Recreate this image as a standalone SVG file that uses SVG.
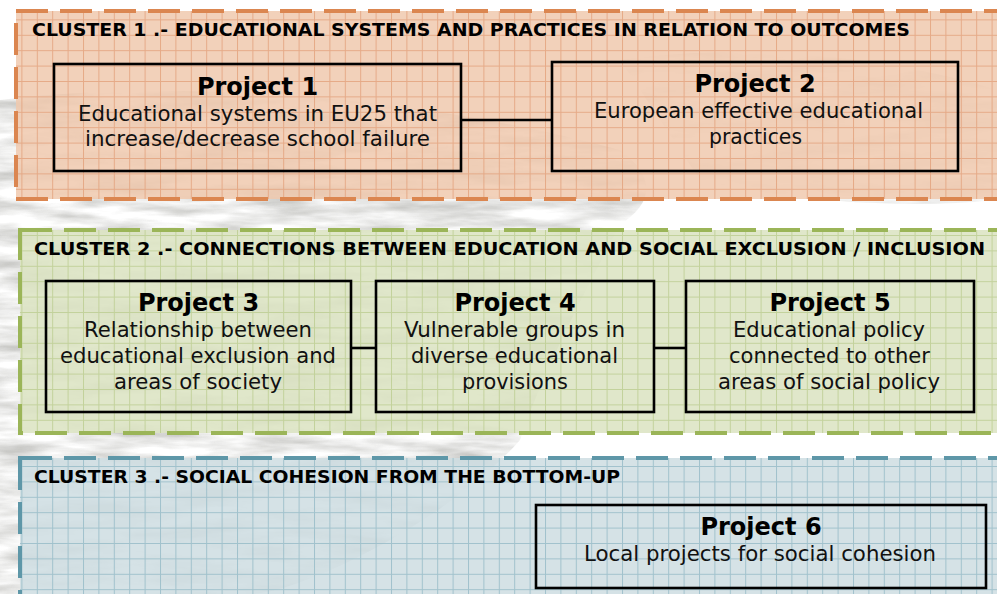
<svg xmlns="http://www.w3.org/2000/svg" width="997" height="594" viewBox="0 0 997 594">
<style>
.ct{font-family:"DejaVu Sans","Verdana",sans-serif;font-weight:bold;font-size:17.5px;fill:#000}
.pt{font-family:"DejaVu Sans","Verdana",sans-serif;font-weight:bold;font-size:24px;fill:#000;text-anchor:middle}
.pb{font-family:"DejaVu Sans","Verdana",sans-serif;font-size:20.5px;fill:#111;text-anchor:middle}
.box{fill:none;stroke:#000;stroke-width:2.6}
.conn{stroke:#000;stroke-width:2.6;fill:none}
.cl{stroke-width:4;stroke-dasharray:32 12}
</style>
<defs>
<filter id="tex" x="0" y="0" width="100%" height="100%">
<feTurbulence type="fractalNoise" baseFrequency="0.012 0.07" numOctaves="4" seed="7" result="n"/>
<feColorMatrix type="matrix" values="0 0 0 0 0.55  0 0 0 0 0.55  0 0 0 0 0.53  2.2 0 0 0 -0.75" in="n" result="g"/>
<feComposite in="g" in2="SourceGraphic" operator="in"/>
</filter>
<pattern id="g1" width="15.4" height="15.4" patternUnits="userSpaceOnUse" x="6" y="4">
<path d="M0 0.5H15.4M0.5 0V15.4" stroke="#E2A07A" stroke-width="1" fill="none" opacity="0.8"/>
</pattern>
<pattern id="g2" width="15.4" height="15.4" patternUnits="userSpaceOnUse" x="6" y="4">
<path d="M0 0.5H15.4M0.5 0V15.4" stroke="#BDCE93" stroke-width="1" fill="none" opacity="0.85"/>
</pattern>
<pattern id="g3" width="15.4" height="15.4" patternUnits="userSpaceOnUse" x="6" y="4">
<path d="M0 0.5H15.4M0.5 0V15.4" stroke="#98BCC8" stroke-width="1" fill="none" opacity="0.85"/>
</pattern>
</defs>
<rect width="997" height="594" fill="#fff"/>
<!-- background sketch texture -->
<path d="M0 100 C150 80 400 90 620 150 C660 180 650 205 620 225 C580 300 540 380 520 440 C450 520 300 594 250 594 L0 594 Z" fill="#fff" filter="url(#tex)" opacity="0.9"/>
<path d="M620 60 C760 40 900 60 997 90 L997 200 C900 210 780 200 700 180 Z" fill="#fff" filter="url(#tex)" opacity="0.5"/>

<g id="cluster1">
<rect x="16" y="11" width="1000" height="188" fill="#F0C9AE" fill-opacity="0.85"/>
<rect x="16" y="11" width="1000" height="188" fill="url(#g1)"/>
<rect x="16" y="11" width="1000" height="188" fill="none" stroke="#DB8650" class="cl"/>
<text class="ct" x="32" y="36" textLength="878" lengthAdjust="spacingAndGlyphs">CLUSTER 1 .- EDUCATIONAL SYSTEMS AND PRACTICES IN RELATION TO OUTCOMES</text>
</g>
<g id="cluster2">
<rect x="20" y="230" width="1000" height="203" fill="#DCE4C3" fill-opacity="0.88"/>
<rect x="20" y="230" width="1000" height="203" fill="url(#g2)"/>
<rect x="20" y="230" width="1000" height="203" fill="none" stroke="#9BB558" class="cl"/>
<text class="ct" x="34" y="255" textLength="951" lengthAdjust="spacingAndGlyphs">CLUSTER 2 .- CONNECTIONS BETWEEN EDUCATION AND SOCIAL EXCLUSION / INCLUSION</text>
</g>
<g id="cluster3">
<rect x="20" y="458" width="1000" height="160" fill="#CFDEE3" fill-opacity="0.88"/>
<rect x="20" y="458" width="1000" height="160" fill="url(#g3)"/>
<rect x="20" y="458" width="1000" height="160" fill="none" stroke="#5E97A8" class="cl"/>
<text class="ct" x="34" y="483" textLength="586" lengthAdjust="spacingAndGlyphs">CLUSTER 3 .- SOCIAL COHESION FROM THE BOTTOM-UP</text>
</g>

<g id="connectors">
<line class="conn" x1="461" y1="120" x2="552" y2="120"/>
<line class="conn" x1="351" y1="348" x2="376" y2="348"/>
<line class="conn" x1="654" y1="348" x2="686" y2="348"/>
</g>

<g id="project1">
<rect class="box" x="54" y="64" width="407" height="107"/>
<text class="pt" x="257.5" y="95">Project 1</text>
<text class="pb" x="257.5" y="121" textLength="359" lengthAdjust="spacingAndGlyphs">Educational systems in EU25 that</text>
<text class="pb" x="257.5" y="146" textLength="345" lengthAdjust="spacingAndGlyphs">increase/decrease school failure</text>
</g>
<g id="project2">
<rect class="box" x="552" y="62" width="406" height="109"/>
<text class="pt" x="755" y="92">Project 2</text>
<text class="pb" x="758.5" y="118" textLength="329" lengthAdjust="spacingAndGlyphs">European effective educational</text>
<text class="pb" x="755.5" y="144" textLength="93" lengthAdjust="spacingAndGlyphs">practices</text>
</g>
<g id="project3">
<rect class="box" x="46" y="281" width="305" height="131"/>
<text class="pt" x="198.5" y="311">Project 3</text>
<text class="pb" x="198" y="337" textLength="228" lengthAdjust="spacingAndGlyphs">Relationship between</text>
<text class="pb" x="198" y="363" textLength="276" lengthAdjust="spacingAndGlyphs">educational exclusion and</text>
<text class="pb" x="198" y="389" textLength="168" lengthAdjust="spacingAndGlyphs">areas of society</text>
</g>
<g id="project4">
<rect class="box" x="376" y="281" width="278" height="131"/>
<text class="pt" x="515" y="311">Project 4</text>
<text class="pb" x="514.5" y="337" textLength="221" lengthAdjust="spacingAndGlyphs">Vulnerable groups in</text>
<text class="pb" x="514.5" y="363" textLength="207" lengthAdjust="spacingAndGlyphs">diverse educational</text>
<text class="pb" x="515" y="389" textLength="106" lengthAdjust="spacingAndGlyphs">provisions</text>
</g>
<g id="project5">
<rect class="box" x="686" y="281" width="288" height="131"/>
<text class="pt" x="830" y="311">Project 5</text>
<text class="pb" x="829" y="337" textLength="192" lengthAdjust="spacingAndGlyphs">Educational policy</text>
<text class="pb" x="829.5" y="363" textLength="201" lengthAdjust="spacingAndGlyphs">connected to other</text>
<text class="pb" x="829" y="389" textLength="222" lengthAdjust="spacingAndGlyphs">areas of social policy</text>
</g>
<g id="project6">
<rect class="box" x="536" y="505" width="450" height="83"/>
<text class="pt" x="761" y="535">Project 6</text>
<text class="pb" x="760" y="561" textLength="352" lengthAdjust="spacingAndGlyphs">Local projects for social cohesion</text>
</g>
</svg>
